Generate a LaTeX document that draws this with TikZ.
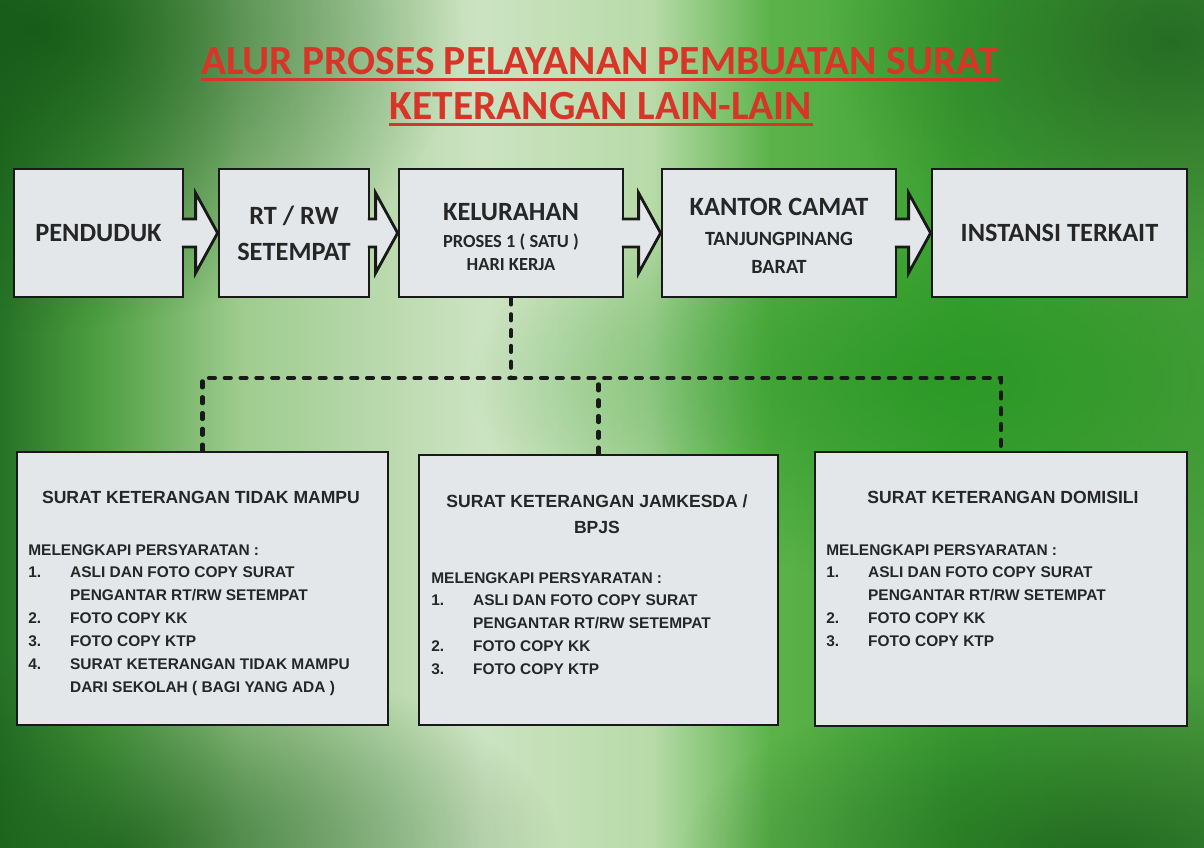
\documentclass[tikz,border=0pt]{standalone}
\usepackage{fontspec}
\setmainfont{Liberation Sans}
\newfontfamily\carlito{Carlito}
\usepackage{tikz}
\usetikzlibrary{calc,fadings}

\definecolor{judulred}{RGB}{216,52,40}
\definecolor{kotakisi}{RGB}{227,231,233}
\definecolor{daundark}{RGB}{22,88,24}
\definecolor{daunhijau}{RGB}{40,150,35}

\pgfdeclarehorizontalshading{latardaun}{100bp}{%
  rgb(0bp)=(0.15,0.45,0.15); rgb(25bp)=(0.15,0.45,0.15);
  rgb(29bp)=(0.30,0.62,0.25); rgb(35bp)=(0.62,0.80,0.56);
  rgb(45bp)=(0.80,0.89,0.76); rgb(52bp)=(0.72,0.86,0.66);
  rgb(57bp)=(0.36,0.70,0.29); rgb(65bp)=(0.24,0.64,0.20);
  rgb(75bp)=(0.30,0.62,0.25); rgb(100bp)=(0.30,0.62,0.25)}
\tikzfading[name=daunlembut,inner color=transparent!0,outer color=transparent!100]

\newcommand{\panahblok}[2]{%
  \draw[panah] ($(#1.east)+(-2.6,-14)$) -- ($(#2.west)+(-22,-14)$) -- ($(#2.west)+(-22,-40)$)
    -- (#2.west) -- ($(#2.west)+(-22,40)$) -- ($(#2.west)+(-22,14)$) -- ($(#1.east)+(-2.6,14)$);}

\begin{document}
\begin{tikzpicture}[x=0.02cm,y=-0.02cm,
  kotakatas/.style={draw=black!90,line width=1.6pt,fill=kotakisi,minimum height=2.56cm,inner sep=0pt,align=center,
    font=\carlito\bfseries\fontsize{15}{15}\selectfont,text=black!85},
  kotakbawah/.style={draw=black!90,line width=1.5pt,fill=kotakisi},
  panah/.style={draw=black!90,line width=1.6pt,fill=kotakisi,line join=miter},
  garis/.style={draw=black!90,line width=2.3pt,dash pattern=on 3.5pt off 5.5pt,line cap=round},
  judul/.style={text=judulred,inner sep=0pt,font=\carlito\bfseries\fontsize{23.6}{28}\selectfont},
  garisjudul/.style={draw=judulred,line width=1.6pt},
  judulsurat/.style={inner sep=0pt,align=center,text=black!85,font=\bfseries\fontsize{10}{14.7}\selectfont},
  syarat/.style={inner sep=0pt,anchor=base west,text=black!85,font=\bfseries\fontsize{8.8}{13}\selectfont}]

\useasboundingbox (0,0) rectangle (1204,848);
\shade[shading=latardaun] (0,0) rectangle (1204,848);
\begin{scope}
\clip (0,0) rectangle (1204,848);
\fill[daundark,opacity=.9,path fading=daunlembut] (40,30) ellipse (420 and 300);
\fill[daundark,opacity=.7,path fading=daunlembut] (1170,40) ellipse (340 and 240);
\fill[daundark,opacity=.75,path fading=daunlembut] (120,850) ellipse (440 and 200);
\fill[daundark,opacity=.75,path fading=daunlembut] (1100,860) ellipse (420 and 190);
\fill[daunhijau,opacity=.8,path fading=daunlembut] (950,380) ellipse (480 and 200);
\end{scope}

% judul
\node[judul] (judul1) at (600,61) {ALUR PROSES PELAYANAN PEMBUATAN SURAT};
\node[judul] (judul2) at (601,106) {KETERANGAN LAIN-LAIN};
\draw[garisjudul] ([yshift=-2.5pt]judul1.south west) -- ([yshift=-2.5pt]judul1.south east);
\draw[garisjudul] ([yshift=-2.5pt]judul2.south west) -- ([yshift=-2.5pt]judul2.south east);

% alur atas
\node[kotakatas,minimum width=3.38cm] (penduduk) at (98.5,233) {PENDUDUK};
\node[kotakatas,minimum width=3cm] (rtrw) at (294,233) {RT / RW\\[5.4pt]SETEMPAT};
\node[kotakatas,minimum width=4.48cm] (kelurahan) at (511,233)
  {\rule{0pt}{14.3pt}KELURAHAN\\{\fontsize{10.5}{12}\selectfont PROSES 1 ( SATU )}\\[-2pt]{\fontsize{10.5}{12}\selectfont HARI KERJA}};
\node[kotakatas,minimum width=4.68cm] (camat) at (779,233)
  {\rule{0pt}{13.1pt}KANTOR CAMAT\\[2pt]{\fontsize{11.5}{13}\selectfont TANJUNGPINANG}\\[1pt]{\fontsize{11.5}{13}\selectfont BARAT}};
\node[kotakatas,minimum width=5.1cm] (instansi) at (1059.5,233) {INSTANSI TERKAIT};

\panahblok{penduduk}{rtrw}
\panahblok{rtrw}{kelurahan}
\panahblok{kelurahan}{camat}
\panahblok{camat}{instansi}

% surat keterangan
\node[kotakbawah,minimum width=7.42cm,minimum height=5.46cm] (tidak) at (202.5,588.5) {};
\node[kotakbawah,minimum width=7.18cm,minimum height=5.4cm] (jamkesda) at (598.5,590) {};
\node[kotakbawah,minimum width=7.44cm,minimum height=5.48cm] (domisili) at (1001,589) {};

\coordinate (cabang) at (511,378);
\draw[garis] (kelurahan.south) -- (cabang);
\draw[garis] (tidak.north) |- (cabang) -| (domisili.north);
\draw[garis] (jamkesda.north) -- (jamkesda.north |- cabang);

\node[judulsurat] (tidakjudul) at (201,497) {SURAT KETERANGAN TIDAK MAMPU};
\node[judulsurat] (jamkesdajudul) at (597,514) {SURAT KETERANGAN JAMKESDA /\\BPJS};
\node[judulsurat] (domisilijudul) at (1003,497) {SURAT KETERANGAN DOMISILI};

\node[syarat] (tidakisi) at (28,555) {\begin{tabular}[t]{@{}p{23.8pt}@{}l@{}}
  \multicolumn{2}{@{}l@{}}{MELENGKAPI PERSYARATAN :}\\
  1. & ASLI DAN FOTO COPY SURAT\\
     & PENGANTAR RT/RW SETEMPAT\\
  2. & FOTO COPY KK\\
  3. & FOTO COPY KTP\\
  4. & SURAT KETERANGAN TIDAK MAMPU\\
     & DARI SEKOLAH ( BAGI YANG ADA )
  \end{tabular}};
\node[syarat] (jamkesdaisi) at (431,583) {\begin{tabular}[t]{@{}p{23.8pt}@{}l@{}}
  \multicolumn{2}{@{}l@{}}{MELENGKAPI PERSYARATAN :}\\
  1. & ASLI DAN FOTO COPY SURAT\\
     & PENGANTAR RT/RW SETEMPAT\\
  2. & FOTO COPY KK\\
  3. & FOTO COPY KTP
  \end{tabular}};
\node[syarat] (domisiliisi) at (826,555) {\begin{tabular}[t]{@{}p{23.8pt}@{}l@{}}
  \multicolumn{2}{@{}l@{}}{MELENGKAPI PERSYARATAN :}\\
  1. & ASLI DAN FOTO COPY SURAT\\
     & PENGANTAR RT/RW SETEMPAT\\
  2. & FOTO COPY KK\\
  3. & FOTO COPY KTP
  \end{tabular}};

\end{tikzpicture}
\end{document}
